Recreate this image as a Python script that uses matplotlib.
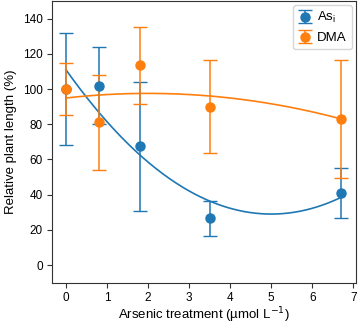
import numpy as np
import matplotlib.pyplot as plt

plt.rcParams['font.family'] = ['Liberation Sans', 'DejaVu Sans']

# As(i) treatment
x_asi = [0, 0.8, 1.8, 3.5, 6.7]
y_asi = [100, 102, 67.5, 26.5, 41]
err_asi = [32, 22, 36.5, 10, 14]
fit_asi = [3.28, -32.8, 111]

# DMA treatment
x_dma = [0, 0.8, 1.8, 3.5, 6.7]
y_dma = [100, 81, 113.5, 90, 83]
err_dma = [14.5, 27, 22, 26.5, 33.5]
fit_dma = [-0.656, 2.624, 94.9]

fig = plt.figure(figsize=(3.58, 3.28), dpi=100)
ax = fig.add_axes([0.145, 0.138, 0.849, 0.859])

xs = np.linspace(0, 6.7, 200)
ax.plot(xs, np.polyval(fit_asi, xs), color='tab:blue', lw=1.2)
ax.plot(xs, np.polyval(fit_dma, xs), color='tab:orange', lw=1.2)

ax.errorbar(x_asi, y_asi, yerr=err_asi, fmt='o', color='tab:blue', ms=6.5, capsize=5, lw=1.1, label='As$_\\mathregular{i}$')
ax.errorbar(x_dma, y_dma, yerr=err_dma, fmt='o', color='tab:orange', ms=6.5, capsize=5, lw=1.1, label='DMA')

ax.set_xlim(-0.34, 7.06)
ax.set_ylim(-10, 150)
ax.set_xticks(range(0, 8))
ax.set_yticks(range(0, 141, 20))
for s in ax.spines.values():
    s.set_color('#333333')
ax.tick_params(labelsize=8.5, color='#333333', length=3.5, pad=3)
ax.set_xlabel('Arsenic treatment (\u00b5mol L$^{\u22121}$)', fontsize=9.5, labelpad=1.5)
ax.set_ylabel('Relative plant length (%)', fontsize=9.5, labelpad=4)
ax.legend(loc='upper right', fontsize=9.5, handlelength=1.0, handletextpad=0.4, borderaxespad=0.3)

fig.savefig('out.png', dpi=100)
